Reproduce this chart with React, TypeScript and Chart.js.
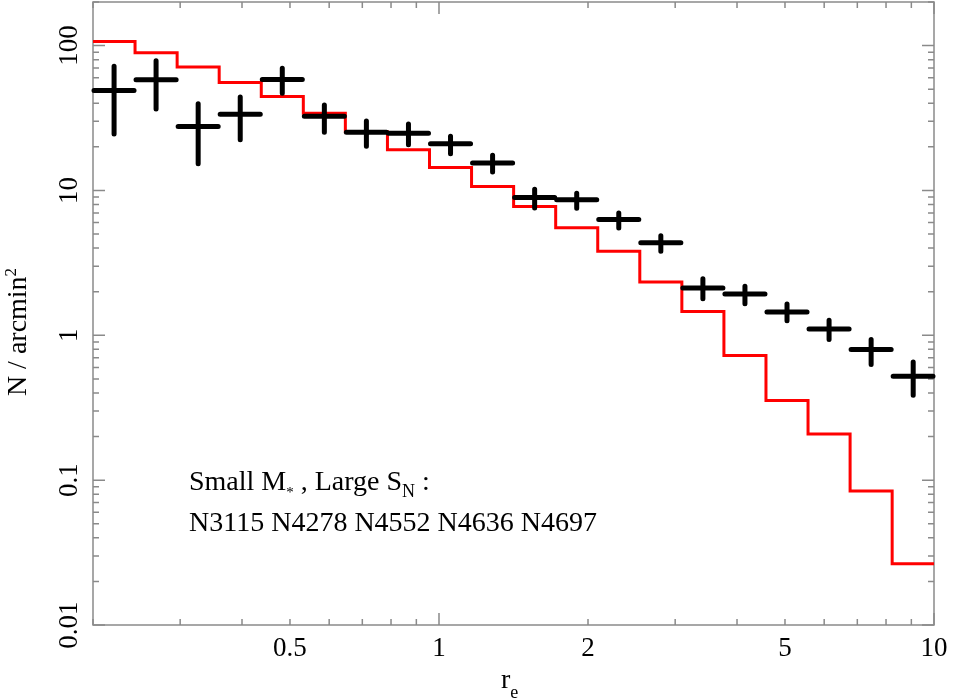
import React, { useEffect, useRef } from "react";
import { Chart, registerables } from "chart.js";

Chart.register(...registerables);

// Bin edges in r_e (logarithmic bins, 20 bins from 0.2 to 10)
const binEdges = [
  0.2, 0.2432, 0.2958, 0.3597, 0.4375, 0.532, 0.6469, 0.7868, 0.9568, 1.1635,
  1.415, 1.7208, 2.0926, 2.5448, 3.0947, 3.7635, 4.5768, 5.5659, 6.7686, 8.2314, 10.0,
];

// Red histogram (model) values per bin
const redValues = [
  106.6, 89.1, 71.3, 55.6, 44.5, 34.1, 25.4, 19.1, 14.4, 10.66,
  7.76, 5.53, 3.8, 2.33, 1.46, 0.724, 0.355, 0.208, 0.084, 0.0265,
];

// Black points (observed) at bin centres
const pointX = [
  0.2206, 0.2682, 0.3262, 0.3967, 0.4824, 0.5867, 0.7134, 0.8676, 1.0551, 1.2831,
  1.5604, 1.8976, 2.3077, 2.8064, 3.4129, 4.1504, 5.0473, 6.138, 7.4644, 9.0775,
];
const pointY = [
  48.9, 58.0, 27.6, 33.6, 58.3, 32.5, 25.2, 24.8, 21.0, 15.5,
  8.95, 8.63, 6.31, 4.36, 2.12, 1.93, 1.45, 1.106, 0.797, 0.521,
];
const pointLow = [
  23.6, 35.1, 14.7, 21.5, 45.0, 24.2, 19.4, 19.9, 17.2, 12.9,
  7.28, 7.24, 5.3, 3.66, 1.72, 1.585, 1.21, 0.9, 0.604, 0.37,
];
const pointHigh = [
  74.8, 81.7, 41.3, 45.9, 72.5, 40.4, 31.4, 29.9, 24.6, 18.2,
  10.6, 9.95, 7.28, 5.07, 2.56, 2.27, 1.71, 1.32, 0.974, 0.68,
];

const xTickLabels = [0.5, 1, 2, 5, 10];
const yTickLabels = [0.01, 0.1, 1, 10, 100];

const X_MIN = 0.2;
const X_MAX = 10;
const Y_MIN = 0.01;
const Y_MAX = 200;

const FONT = "'Liberation Serif', 'Times New Roman', serif";

const framePlugin = {
  id: "framePlugin",
  beforeDatasetsDraw(chart: any) {
    const { ctx, chartArea } = chart;
    const xs = chart.scales.x;
    const ys = chart.scales.y;
    const { left, right, top, bottom } = chartArea;
    ctx.save();
    ctx.strokeStyle = "#8a8a8a";
    ctx.lineWidth = 1.5;
    ctx.strokeRect(left, top, right - left, bottom - top);

    // x ticks (bottom and top)
    for (let d = 0.1; d <= 10.0001; d *= 10) {
      for (let m = 1; m <= 9; m++) {
        const v = d * m;
        if (v < X_MIN * 0.999 || v > X_MAX * 1.001) continue;
        const px = xs.getPixelForValue(v);
        const len = m === 1 ? 12 : 6;
        ctx.beginPath();
        ctx.moveTo(px, bottom);
        ctx.lineTo(px, bottom - len);
        ctx.moveTo(px, top);
        ctx.lineTo(px, top + len);
        ctx.stroke();
      }
    }
    // y ticks (left and right)
    for (let d = 0.01; d <= 100.001; d *= 10) {
      for (let m = 1; m <= 9; m++) {
        const v = d * m;
        if (v < Y_MIN * 0.999 || v > Y_MAX * 1.001) continue;
        const py = ys.getPixelForValue(v);
        const len = m === 1 ? 12 : 6;
        ctx.beginPath();
        ctx.moveTo(left, py);
        ctx.lineTo(left + len, py);
        ctx.moveTo(right, py);
        ctx.lineTo(right - len, py);
        ctx.stroke();
      }
    }
    ctx.restore();
  },
  afterDatasetsDraw(chart: any) {
    const { ctx } = chart;
    const xs = chart.scales.x;
    const ys = chart.scales.y;
    ctx.save();
    ctx.strokeStyle = "#000";
    ctx.lineWidth = 5;
    ctx.lineCap = "round";
    for (let i = 0; i < pointX.length; i++) {
      const px = xs.getPixelForValue(pointX[i]);
      const py = ys.getPixelForValue(pointY[i]);
      const x0 = xs.getPixelForValue(binEdges[i]) + 1;
      const x1 = xs.getPixelForValue(binEdges[i + 1]) - 1;
      const yHi = ys.getPixelForValue(pointHigh[i]) + 2.5;
      const yLo = ys.getPixelForValue(pointLow[i]) - 2.5;
      ctx.beginPath();
      ctx.moveTo(x0, py);
      ctx.lineTo(x1, py);
      ctx.moveTo(px, yHi);
      ctx.lineTo(px, yLo);
      ctx.stroke();
    }
    ctx.restore();
  },
  afterDraw(chart: any) {
    const { ctx, chartArea } = chart;
    const xs = chart.scales.x;
    const ys = chart.scales.y;
    ctx.save();
    ctx.fillStyle = "#000";
    // x tick labels
    ctx.font = `27px ${FONT}`;
    ctx.textAlign = "center";
    ctx.textBaseline = "alphabetic";
    for (const v of xTickLabels) {
      const px = xs.getPixelForValue(v);
      ctx.fillText(String(v), px, 656);
    }
    // y tick labels (rotated)
    for (const v of yTickLabels) {
      const py = ys.getPixelForValue(v);
      ctx.save();
      ctx.translate(77, py);
      ctx.rotate(-Math.PI / 2);
      ctx.textAlign = "center";
      ctx.fillText(String(v), 0, 0);
      ctx.restore();
    }
    // x title r_e
    ctx.textAlign = "left";
    ctx.font = `28px ${FONT}`;
    const rW = ctx.measureText("r").width;
    ctx.fillText("r", 501, 688);
    ctx.font = `18px ${FONT}`;
    ctx.fillText("e", 501 + rW, 698);

    // y title
    ctx.save();
    ctx.translate(26, 332);
    ctx.rotate(-Math.PI / 2);
    ctx.font = `28px ${FONT}`;
    const main = "N / arcmin";
    const mW = ctx.measureText(main).width;
    ctx.font = `17px ${FONT}`;
    const sW = ctx.measureText("2").width;
    const total = mW + sW;
    ctx.font = `28px ${FONT}`;
    ctx.fillText(main, -total / 2, 0);
    ctx.font = `17px ${FONT}`;
    ctx.fillText("2", -total / 2 + mW, -10);
    ctx.restore();

    // annotation
    const ax = 189;
    let cx = ax;
    const big = `28px ${FONT}`;
    const small = `18px ${FONT}`;
    const seg = (t: string, font: string, dy: number, y: number) => {
      ctx.font = font;
      ctx.fillText(t, cx, y + dy);
      cx += ctx.measureText(t).width;
    };
    seg("Small M", big, 0, 490);
    seg("*", `15px ${FONT}`, 7, 490);
    seg(" , Large S", big, 0, 490);
    seg("N", small, 7, 490);
    seg(" :", big, 0, 490);
    ctx.font = big;
    ctx.fillText("N3115 N4278 N4552 N4636 N4697", ax, 531);
    ctx.restore();
  },
};

export default function App() {
  const ref = useRef<HTMLCanvasElement | null>(null);
  useEffect(() => {
    if (!ref.current) return;
    const redData = binEdges.map((e, i) => ({
      x: e,
      y: redValues[Math.min(i, redValues.length - 1)],
    }));
    const ptData = pointX.map((x, i) => ({ x, y: pointY[i] }));
    const chart = new Chart(ref.current, {
      type: "scatter",
      data: {
        datasets: [
          {
            type: "line",
            data: redData,
            borderColor: "#ff0000",
            borderWidth: 3,
            stepped: "before",
            pointRadius: 0,
            fill: false,
          } as any,
          {
            type: "scatter",
            data: ptData,
            pointRadius: 0,
          } as any,
        ],
      },
      options: {
        animation: false,
        responsive: false,
        events: [],
        layout: { padding: { left: 0, right: 33, top: 2, bottom: 0 } },
        plugins: { legend: { display: false }, tooltip: { enabled: false } },
        scales: {
          x: {
            type: "logarithmic",
            min: X_MIN,
            max: X_MAX,
            ticks: { display: false },
            grid: { display: false },
            border: { display: false },
            afterFit: (s: any) => {
              s.height = 75;
            },
          },
          y: {
            type: "logarithmic",
            min: Y_MIN,
            max: Y_MAX,
            ticks: { display: false },
            grid: { display: false },
            border: { display: false },
            afterFit: (s: any) => {
              s.width = 93;
            },
          },
        },
      },
      plugins: [framePlugin],
    });
    return () => chart.destroy();
  }, []);
  return (
    <div style={{ position: "fixed", left: 0, top: 0, width: 967, height: 700, background: "#fff" }}>
      <canvas ref={ref} width={967} height={700} style={{ width: 967, height: 700 }} />
    </div>
  );
}
